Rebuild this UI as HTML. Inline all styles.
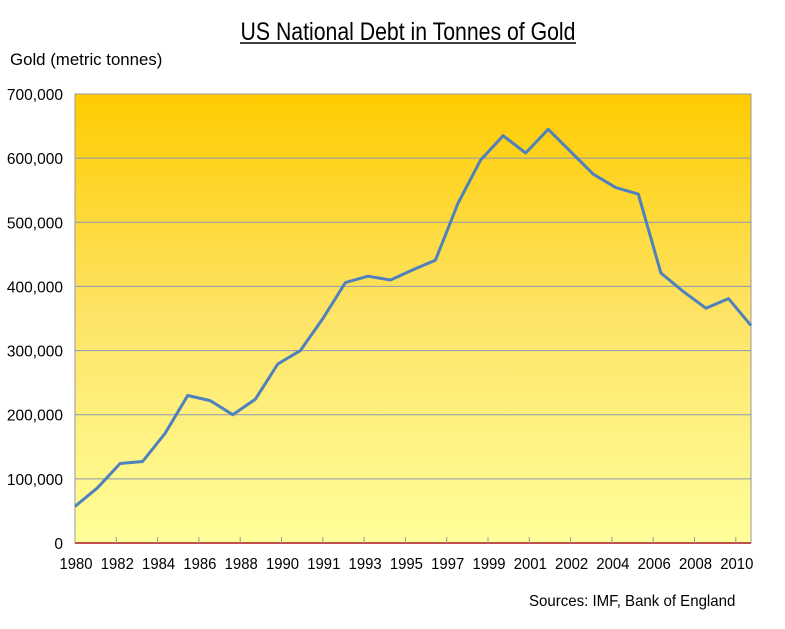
<!DOCTYPE html>
<html><head><meta charset="utf-8"><style>
body{margin:0;background:#fff;width:785px;height:629px;overflow:hidden}
svg{display:block;font-family:"Liberation Sans",sans-serif}
</style></head><body>
<svg width="785" height="629" viewBox="0 0 785 629">
<defs><linearGradient id="g" x1="0" y1="0" x2="0" y2="1">
<stop offset="0" stop-color="#FFCC00"/><stop offset="0.5" stop-color="#FEE468"/><stop offset="1" stop-color="#FFFF99"/></linearGradient></defs>
<text x="0" y="40" font-size="25" transform="translate(408,0) scale(0.85,1)" text-anchor="middle">US National Debt in Tonnes of Gold</text>
<line x1="240" x2="576" y1="43" y2="43" stroke="#000" stroke-width="1.5"/>
<text x="0" y="65" font-size="17" transform="translate(10,0) scale(0.99,1)">Gold (metric tonnes)</text>
<rect x="75" y="94" width="676" height="449" fill="url(#g)" stroke="#999" stroke-width="1"/>
<g id="grid"></g><g id="ylab"></g><g id="xax"></g>
<path id="line" fill="none" stroke="#4F81BD" stroke-width="3" stroke-linejoin="round"/>
<text x="0" y="606" font-size="16" transform="translate(529,0) scale(0.94,1)">Sources: IMF, Bank of England</text>
</svg>
<script>
const values=[57000,86000,124000,127000,171000,230000,222000,200000,224000,279000,300000,350000,406000,416000,410000,426000,441000,530000,597000,635000,608000,645000,610000,575000,554000,544000,421000,392000,366000,381000,339000];
const yTicks=[0,100000,200000,300000,400000,500000,600000,700000];
const xLabels=["1980","1982","1984","1986","1988","1990","1991","1993","1995","1997","1999","2001","2002","2004","2006","2008","2010"];
const X0=75,X1=751,Y0=543,Y1=94,YMAX=700000;
const ns="http://www.w3.org/2000/svg";
const y=v=>Y0-(v/YMAX)*(Y0-Y1);
const xp=i=>X0+i*(X1-X0)/(values.length-1);
const xt=i=>X0+i*41.3;
function mk(t,a,p){const e=document.createElementNS(ns,t);for(const k in a)e.setAttribute(k,a[k]);p.appendChild(e);return e;}
const grid=document.getElementById('grid'),ylab=document.getElementById('ylab'),xax=document.getElementById('xax');
yTicks.forEach(v=>{
  if(v>0&&v<YMAX){const l=mk('line',{x1:X0,x2:X1,y1:y(v),y2:y(v),stroke:'#8C96B4','stroke-width':1},grid);
  
  }
  const t=mk('text',{x:0,y:y(v)+6,'font-size':16,'text-anchor':'end',transform:'translate(63,0) scale(0.97,1)'},ylab);
  
  
  t.textContent=v===0?'0':v.toLocaleString('en-US');
});
const base=mk('line',{x1:X0,x2:X1,y1:Y0,y2:Y0,stroke:'#C0504D','stroke-width':2},xax);


xLabels.forEach((s,i)=>{
  const tk=mk('line',{x1:xt(i),x2:xt(i),y1:Y0,y2:Y0-6,stroke:'#999'},xax);
  
  
  const t=mk('text',{x:0,y:Y0+26,'font-size':16,'text-anchor':'middle',transform:`translate(${xt(i)+1},0) scale(0.93,1)`},xax);
  
  
  t.textContent=s;
});
document.getElementById('line').setAttribute('d',values.map((v,i)=>(i?'L':'M')+xp(i).toFixed(1)+','+y(v).toFixed(1)).join(''));
</script>
</body></html>
